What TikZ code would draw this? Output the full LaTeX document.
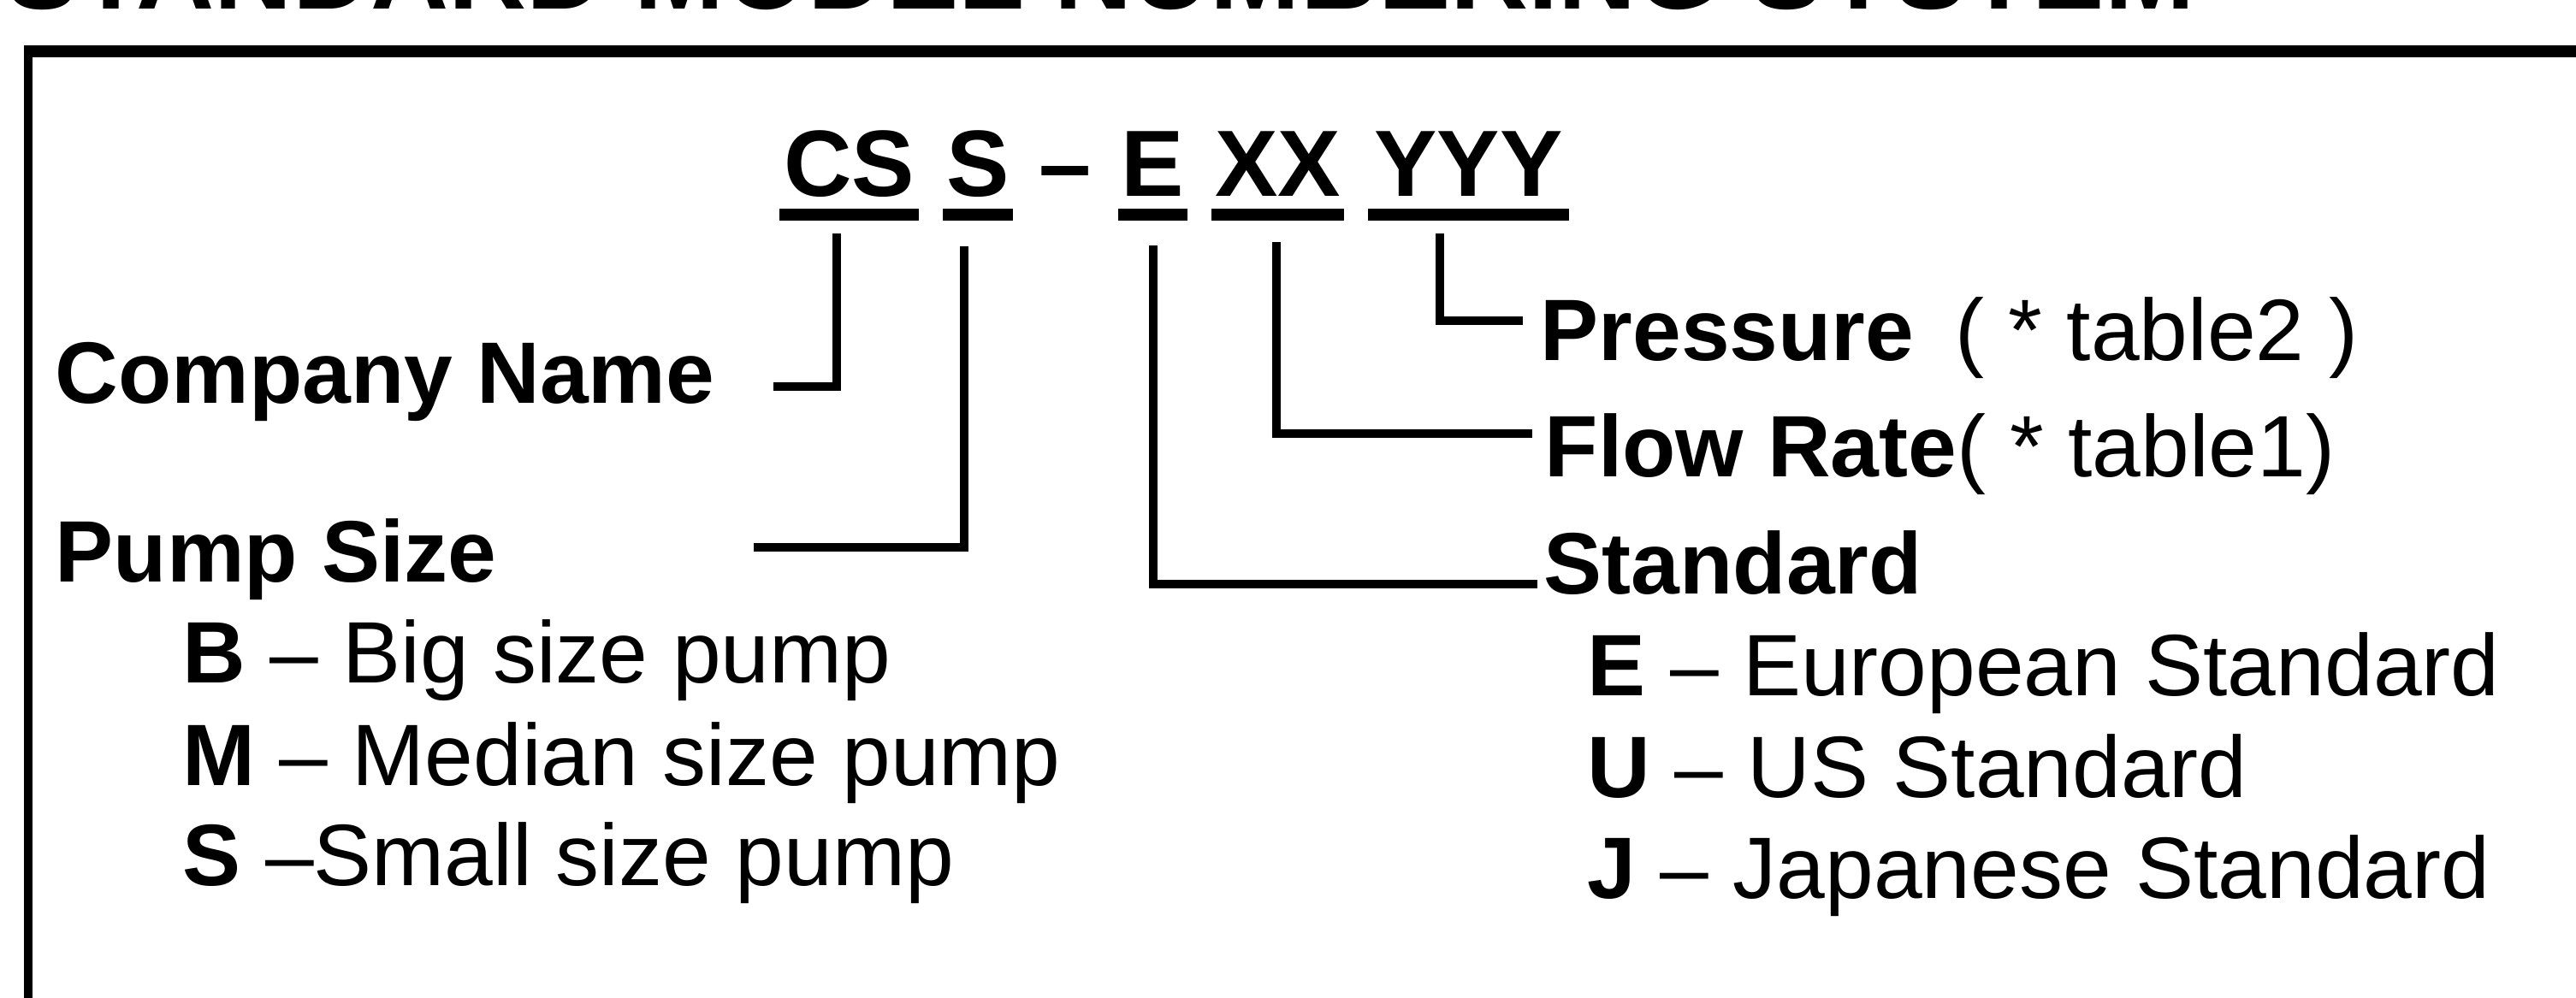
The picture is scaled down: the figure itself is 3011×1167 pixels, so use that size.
\documentclass[tikz,border=0pt]{standalone}
\usepackage{fontspec}
\setmainfont{Liberation Sans}
\begin{document}
\begin{tikzpicture}[x=0.01cm, y=-0.01cm]
\tikzset{
  lbl/.style={inner sep=0pt, anchor=base west, font=\fontsize{29}{34}\selectfont},
  codetxt/.style={inner sep=0pt, anchor=base, font=\fontsize{31.3}{36}\selectfont\bfseries},
  ttl/.style={inner sep=0pt, anchor=base west, font=\fontsize{35.9}{40}\selectfont\bfseries},
  uline/.style={line width=0.14cm},
  conn/.style={line width=0.10cm, line join=miter},
  framevert/.style={line width=0.10cm},
  framehor/.style={line width=0.14cm},
}
\useasboundingbox (0,0) rectangle (3011,1167);

% title (mostly cut off by the top edge)
\node[ttl] (title) at (7,11) {STANDARD MODEL NUMBERING SYSTEM};

% frame
\draw[framehor] (28,60.5) -- (3011,60.5);
\draw[framevert] (33,53.5) -- (33,1167);

% model code
\node[codetxt, minimum width=1.61cm] (cs) at (992.5,230) {CS};
\node[codetxt, minimum width=0.80cm] (s) at (1143,230) {S};
\node[codetxt] (dash) at (1245,230) {–};
\node[codetxt, minimum width=0.79cm] (e) at (1347.5,230) {E};
\node[codetxt, minimum width=1.53cm] (xx) at (1493.5,230) {XX};
\node[codetxt, minimum width=2.33cm] (yyy) at (1716.5,230) {YYY};
\foreach \n in {cs,s,e,xx,yyy}
  \draw[uline] ([yshift=-0.205cm]\n.base west) -- ([yshift=-0.205cm]\n.base east);

% labels
\node[lbl] (cname) at (64,472) {\bfseries Company Name};
\node[lbl] (psize) at (64,680) {\bfseries Pump Size};
\node[lbl] (big) at (213,798) {\textbf{B} – Big size pump};
\node[lbl] (med) at (213,918) {\textbf{M} – Median size pump};
\node[lbl] (small) at (213,1035) {\textbf{S} –Small size pump};

\node[lbl] (press) at (1800,422) {\textbf{Pressure}\hspace{0.2cm} ( * table2 )};
\node[lbl] (flow) at (1805,558) {\textbf{Flow Rate}( * table1)};
\node[lbl] (std) at (1804,695) {\textbf{Standard}};
\node[lbl] (eur) at (1855,813) {\textbf{E} – European Standard};
\node[lbl] (us) at (1855,932) {\textbf{U} – US Standard};
\node[lbl] (jp) at (1855,1050) {\textbf{J} – Japanese Standard};

% connectors
\draw[conn] ([xshift=-0.145cm, yshift=-0.43cm]cs.base) |- ([xshift=0.68cm, yshift=0.2cm]cname.base east);
\draw[conn] ([xshift=-0.16cm, yshift=-0.58cm]s.base) |- ([xshift=3.0cm, yshift=0.4cm]psize.base east);
\draw[conn] ([xshift=-0.335cm, yshift=-0.43cm]yyy.base) |- ([xshift=-0.2cm, yshift=0.47cm]press.base west);
\draw[conn] ([xshift=-0.015cm, yshift=-0.53cm]xx.base) |- ([xshift=-0.14cm, yshift=0.51cm]flow.base west);
\draw[conn] ([yshift=-0.57cm]e.base) |- ([xshift=-0.07cm, yshift=0.12cm]std.base west);
\end{tikzpicture}
\end{document}
